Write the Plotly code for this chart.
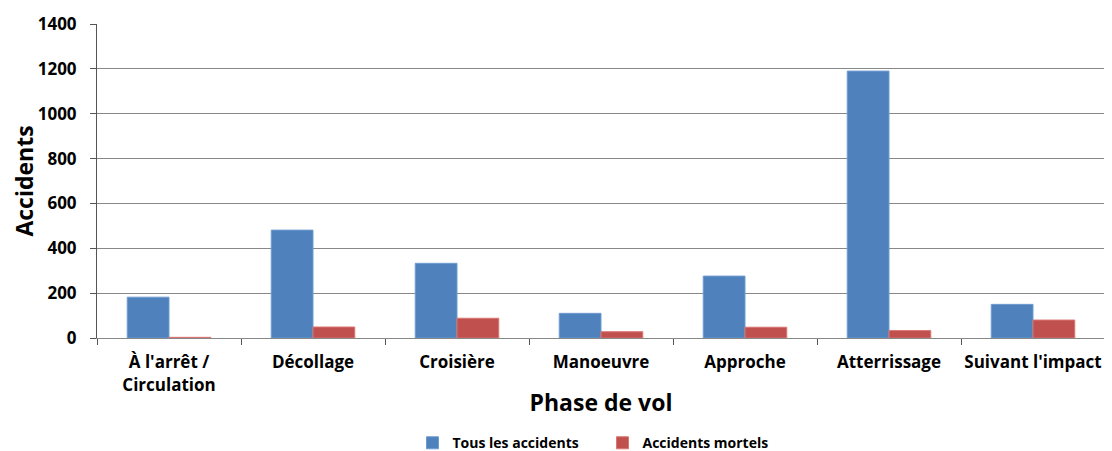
import plotly.graph_objects as go

categories = ["À l'arrêt /<br>Circulation", "Décollage", "Croisière", "Manoeuvre",
              "Approche", "Atterrissage", "Suivant l'impact"]
tous = [182, 481, 333, 110, 276, 1190, 150]
mortels = [3, 49, 88, 28, 48, 33, 80]
y_ticks = [0, 200, 400, 600, 800, 1000, 1200, 1400]

FONT = "Open Sans"

fig = go.Figure()
fig.add_trace(go.Bar(x=categories, y=tous, name="Tous les accidents",
                     marker=dict(color="#4F81BD", line=dict(color="#6F9BD1", width=1))))
fig.add_trace(go.Bar(x=categories, y=mortels, name="Accidents mortels",
                     marker=dict(color="#C0504D", line=dict(color="#D97572", width=1))))

fig.update_layout(
    width=1112, height=451,
    margin=dict(l=89, r=15, t=16, b=121, autoexpand=False),
    paper_bgcolor="white", plot_bgcolor="white",
    barmode="group", bargap=0.42, bargroupgap=0,
    font=dict(family=FONT, color="black"),
    legend=dict(orientation="h", x=0.313, xanchor="left", y=-0.335, yanchor="middle",
                font=dict(size=14, family=FONT, weight="bold"), itemwidth=30,
                entrywidth=145, entrywidthmode="pixels",
                traceorder="normal"),
    showlegend=True,
)
fig.update_xaxes(
    automargin=False, tickangle=0,
    showline=True, linecolor="#888888", linewidth=1,
    ticks="outside", tickson="boundaries", ticklen=6, tickcolor="#555555",
    ticklabelstandoff=9,
    tickfont=dict(size=17, family=FONT, weight="bold"),
    title=dict(text="Phase de vol", font=dict(size=23, family=FONT, weight="bold"), standoff=0),
)
fig.update_yaxes(
    automargin=False,
    range=[0, 1400], tickvals=y_ticks,
    showline=True, linecolor="#555555", linewidth=1,
    ticks="outside", ticklen=6, tickcolor="#555555",
    ticklabelstandoff=10,
    showgrid=True, gridcolor="#888888", gridwidth=1,
    tickfont=dict(size=17, family=FONT, weight="bold"),
    title=dict(text="Accidents", font=dict(size=23, family=FONT, weight="bold"), standoff=3),
    zeroline=False,
)
fig.write_html("out.html")
